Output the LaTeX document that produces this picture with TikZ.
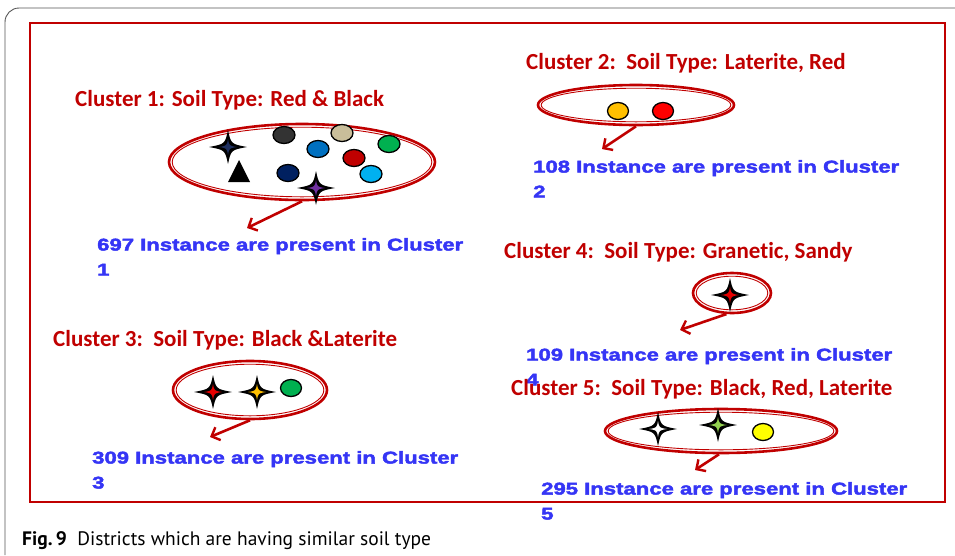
\documentclass[tikz,border=0pt]{standalone}
\usepackage{fontspec}
\setmainfont{Carlito}[Ligatures=NoCommon]
\newfontfamily\countfont{Liberation Sans}[FakeStretch=1.3,FakeBold=2.6]
\newfontfamily\capfont{PT Sans}
\usetikzlibrary{arrows.meta,shapes.geometric}

\definecolor{clred}{HTML}{C00000}
\definecolor{clblue}{HTML}{3535F5}
\definecolor{framegray}{HTML}{555555}
\definecolor{navycore}{HTML}{1F3060}
\definecolor{darkgraydot}{HTML}{333333}
\definecolor{tan}{HTML}{C9BE9A}
\definecolor{midblue}{HTML}{0070C0}
\definecolor{green}{HTML}{00B050}
\definecolor{darkred}{HTML}{C00000}
\definecolor{navy}{HTML}{002060}
\definecolor{skyblue}{HTML}{00B0F0}
\definecolor{purple}{HTML}{7030A0}
\definecolor{amber}{HTML}{FFC000}
\definecolor{brightred}{HTML}{FF0000}
\definecolor{corered}{HTML}{E60000}
\definecolor{lime}{HTML}{92D050}
\definecolor{yellow}{HTML}{FFFF00}

\tikzset{
  title/.style={anchor=base west, inner sep=0pt, text=clred,
    font=\bfseries\fontsize{23}{27}\selectfont},
  count/.style={anchor=north west, inner sep=0pt, text=clblue, align=left,
    font=\countfont\bfseries\fontsize{17}{25}\selectfont},
  bubble/.style={shape=ellipse, draw=clred, line width=2.6pt, inner sep=0pt},
  innerring/.style={draw=clred, line width=0.9pt},
  pointer/.style={draw=clred, line width=2.6pt,
    -{Straight Barb[length=7pt,width=14pt,line width=2.4pt]}},
  dot/.style={draw=black, line width=1.3pt},
  pics/sparkle/.style={code={
    \fill[black] (0,-17) .. controls (3,-3) .. (19,0)
                         .. controls (3,3) .. (0,17)
                         .. controls (-3,3) .. (-19,0)
                         .. controls (-3,-3) .. (0,-17) -- cycle;
    \fill[#1] (0,-8) .. controls (1.2,-1.2) .. (9,0)
                     .. controls (1.2,1.2) .. (0,8)
                     .. controls (-1.2,1.2) .. (-9,0)
                     .. controls (-1.2,-1.2) .. (0,-8) -- cycle;
  }},
}

\begin{document}
\begin{tikzpicture}[x=1pt,y=-1pt]
\useasboundingbox (0,0) rectangle (955,555);

% page frame and figure border
\draw[framegray, line width=0.9pt] (5,555) -- (5,22) arc[start angle=180, end angle=270, radius=14] -- (955,8);
\draw[clred, line width=2pt] (30,23) rectangle (945,502);

% ---- Cluster 1 ----
\node[title] (t1) at (75,106) {Cluster 1: Soil Type: Red \& Black};
\node[bubble, minimum width=266pt, minimum height=76pt] (e1) at (302,162) {};
\draw[innerring] (e1.center) ellipse [x radius=129.8, y radius=34.8];
\pic at (228,147) {sparkle=navycore};
\fill[black] (239,160) -- (250,182) -- (228,182) -- cycle;
\draw[dot, fill=darkgraydot] (284,135) ellipse [x radius=11, y radius=8.5];
\draw[dot, fill=tan] (342,133) ellipse [x radius=11, y radius=8.5];
\draw[dot, fill=midblue] (318,149) ellipse [x radius=11, y radius=8.5];
\draw[dot, fill=green] (389,144) ellipse [x radius=11, y radius=8.5];
\draw[dot, fill=darkred] (354,158) ellipse [x radius=11, y radius=8.5];
\draw[dot, fill=navy] (288,173) ellipse [x radius=11, y radius=8.5];
\draw[dot, fill=skyblue] (371,174) ellipse [x radius=11, y radius=8.5];
\pic at (316,188) {sparkle=purple};
\node[count] (n1) at (97,238) {697 Instance are present in Cluster\\1};
\coordinate (a1) at (247,228);
\draw[pointer] (e1.south) -- (a1);

% ---- Cluster 2 ----
\node[title] (t2) at (526,69) {Cluster 2:\ \ Soil Type: Laterite, Red};
\node[bubble, minimum width=196pt, minimum height=40pt] (e2) at (636,105) {};
\draw[innerring] (e2.center) ellipse [x radius=94.8, y radius=16.8];
\draw[dot, fill=amber] (618,111) ellipse [x radius=10.5, y radius=8.5];
\draw[dot, fill=brightred] (663,111) ellipse [x radius=10.5, y radius=8.5];
\node[count] (n2) at (533,160) {108 Instance are present in Cluster\\2};
\coordinate (a2) at (602,149);
\draw[pointer] (e2.south) -- (a2);

% ---- Cluster 4 ----
\node[title] (t4) at (504,258) {Cluster 4:\ \ Soil Type: Granetic, Sandy};
\node[bubble, minimum width=78pt, minimum height=40pt] (e4) at (732,293) {};
\draw[innerring] (e4.center) ellipse [x radius=35.8, y radius=16.8];
\pic at (730,295) {sparkle=corered};
\node[count] (n4) at (526,348) {109 Instance are present in Cluster\\4};
\coordinate (a4) at (680,330);
\draw[pointer] (e4.255) -- (a4);

% ---- Cluster 3 ----
\node[title] (t3) at (53,346) {Cluster 3:\ \ Soil Type: Black \&Laterite};
\node[bubble, minimum width=154pt, minimum height=58pt] (e3) at (250,390) {};
\draw[innerring] (e3.center) ellipse [x radius=73.8, y radius=25.8];
\pic at (213,392) {sparkle=corered};
\pic at (257,392) {sparkle=amber};
\draw[dot, fill=green] (291,388) ellipse [x radius=10.5, y radius=8.5];
\node[count] (n3) at (92,451) {309 Instance are present in Cluster\\3};
\coordinate (a3) at (210,437);
\draw[pointer] (e3.south) -- (a3);

% ---- Cluster 5 ----
\node[title] (t5) at (511,395) {Cluster 5:\ \ Soil Type: Black, Red, Laterite};
\node[bubble, minimum width=232pt, minimum height=44pt] (e5) at (721,431) {};
\draw[innerring] (e5.center) ellipse [x radius=112.8, y radius=18.8];
\pic at (658,429) {sparkle=white};
\pic at (718,425) {sparkle=lime};
\draw[dot, fill=yellow] (763,432) ellipse [x radius=10.5, y radius=8.5];
\node[count] (n5) at (541,482) {295 Instance are present in Cluster\\5};
\coordinate (a5) at (695,470);
\draw[pointer] (e5.265) -- (a5);

% caption
\node[anchor=base west, inner sep=0pt, font=\capfont\fontsize{19.5}{22}\selectfont] (cap) at (22,545)
  {\textbf{Fig.\,9}\ \ Districts which are having similar soil type};
\end{tikzpicture}
\end{document}
